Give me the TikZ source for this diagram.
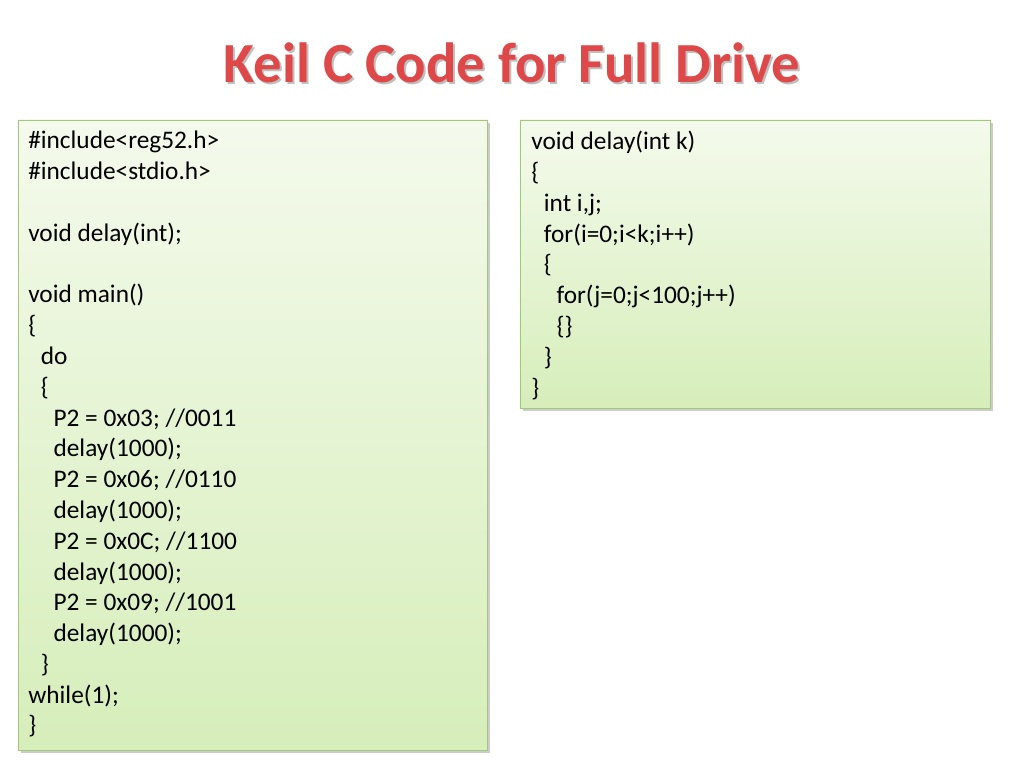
\documentclass[tikz,border=0pt]{standalone}
\usepackage{fontspec}
\setmainfont{Carlito}
\usetikzlibrary{positioning}
\definecolor{titlered}{RGB}{222,72,72}
\definecolor{boxedge}{RGB}{160,200,120}
\definecolor{boxtop}{RGB}{244,250,236}
\definecolor{boxbot}{RGB}{214,238,186}
\tikzset{codebox/.style={draw=boxedge, top color=boxtop, bottom color=boxbot},
  codetext/.style={anchor=north west, align=left, inner sep=0pt,
    font=\fontsize{18}{21.9}\selectfont}}
\newcommand{\ind}[1]{\hspace*{#1em}}

\begin{document}
\begin{tikzpicture}[x=0.025cm,y=-0.025cm]
        \useasboundingbox (0,0) rectangle (1024,768);
        % title
        \node[text=gray!50, font=\fontsize{40.3}{44}\bfseries] at (514,65) {Keil C Code for Full Drive};
        \node (title)[text=titlered, font=\fontsize{40.3}{44}\bfseries] at (512,63) {Keil C Code for Full Drive};

        % boxes
        \fill[gray!40] (21,123) rectangle (490,753);
        \fill[gray!40] (523,123) rectangle (993,411);
        \draw[codebox] (18,120) rectangle (487,750);
        \draw[codebox] (520,120) rectangle (990,408);

        \node (maincode)[codetext] at (28,131) {%
          \#include<reg52.h>\\
          \#include<stdio.h>\\[21.9pt]
          void delay(int);\\[21.9pt]
          void main()\\
          \{\\
          \ind{0.5}do\\
          \ind{0.5}\{\\
          \ind{1}P2 = 0x03; //0011\\
          \ind{1}delay(1000);\\
          \ind{1}P2 = 0x06; //0110\\
          \ind{1}delay(1000);\\
          \ind{1}P2 = 0x0C; //1100\\
          \ind{1}delay(1000);\\
          \ind{1}P2 = 0x09; //1001\\
          \ind{1}delay(1000);\\
          \ind{0.5}\}\\
          while(1);\\
          \}};

        \node (delaycode)[codetext] at (531,131) {%
          void delay(int k)\\
          \{\\
          \ind{0.5}int i,j;\\
          \ind{0.5}for(i=0;i<k;i++)\\
          \ind{0.5}\{\\
          \ind{1}for(j=0;j<100;j++)\\
          \ind{1}\{\}\\
          \ind{0.5}\}\\
          \}};
      \end{tikzpicture}
\end{document}
